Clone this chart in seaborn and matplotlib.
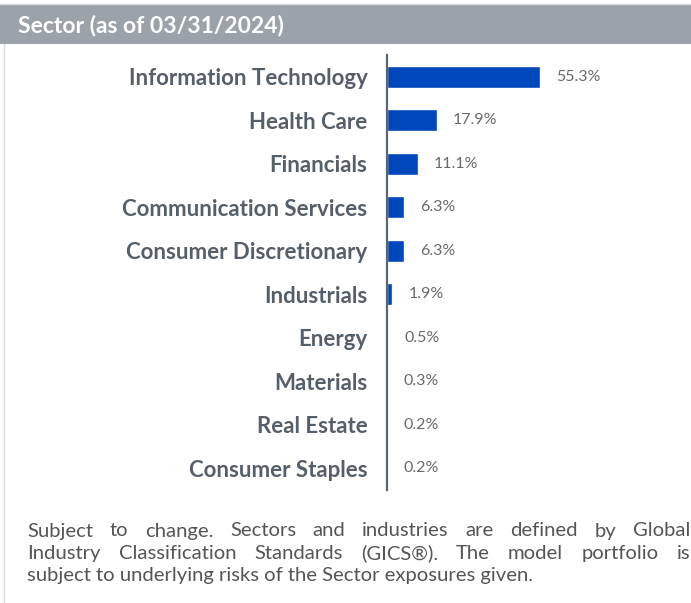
import numpy as np
import pandas as pd
import seaborn as sns
from matplotlib import pyplot as plt
from matplotlib.patches import Rectangle
from matplotlib.lines import Line2D

## DATA ##
sectors = ["Information Technology", "Health Care", "Financials",
           "Communication Services", "Consumer Discretionary", "Industrials",
           "Energy", "Materials", "Real Estate", "Consumer Staples"]
weights = [55.3, 17.9, 11.1, 6.3, 6.3, 1.9, 0.5, 0.3, 0.2, 0.2]
title = "Sector (as of 03/31/2024)"
note_lines = ["Subject to change. Sectors and industries are defined by Global",
              "Industry Classification Standards (GICS\u00ae). The model portfolio is",
              "subject to underlying risks of the Sector exposures given."]

## SETTINGS ##
W, H = 691, 603
bar_color = "#0047bb"
label_color = "#555f69"
value_color = "#6a6a6a"
header_color = "#9ba2a9"

sns.set_style("white")
plt.rcParams['font.family'] = ['Lato', 'DejaVu Sans']

fig = plt.figure(figsize=(W / 100, H / 100), dpi=100)

def px(x0, y0, w, h):
    # pixel box (top-left origin) -> figure fraction
    return [x0 / W, 1 - (y0 + h) / H, w / W, h / H]

# header band + frame lines
fig.patches.append(Rectangle((0, 1 - 44 / H), 1, 40 / H, transform=fig.transFigure,
                             facecolor=header_color, edgecolor="none"))
fig.lines.append(Line2D([0, 1], [1 - 3.5 / H] * 2, transform=fig.transFigure,
                        color="#d8dadd", lw=1))
fig.lines.append(Line2D([3.5 / W] * 2, [0, 1 - 44 / H], transform=fig.transFigure,
                        color="#d8dadd", lw=1))
fig.text(18 / W, 1 - 26 / H, title, color="white", fontsize=16.5, fontweight="bold",
         va="center", ha="left")

# bar chart
df = pd.DataFrame({"sector": sectors, "weight": weights})
ax = fig.add_axes(px(387, 55, 300, 435))
sns.barplot(data=df, x="weight", y="sector", orient="h", color=bar_color,
            saturation=1, width=0.5, ax=ax)
ax.set_xlim(0, 300 / 2.77)
ax.set_ylim(len(sectors) - 0.5, -0.5)
ax.set_xlabel("")
ax.set_ylabel("")
ax.set_xticks([])
for s in ["top", "right", "bottom"]:
    ax.spines[s].set_visible(False)
ax.spines["left"].set_color("#5b6670")
ax.spines["left"].set_linewidth(1.6)
ax.tick_params(axis="y", length=0, pad=14)
for lab in ax.get_yticklabels():
    lab.set_fontsize(16)
    lab.set_fontweight("bold")
    lab.set_color(label_color)
ax.patch.set_alpha(0)

for i, v in enumerate(weights):
    ax.annotate(f"{v:.1f}%", (v, i), xytext=(16, 0), textcoords="offset pixels",
                va="center", ha="left", fontsize=11.5, color=value_color)

# justified footnote
fig.canvas.draw()
renderer = fig.canvas.get_renderer()
x_left, x_right = 27, 690
note_size = 14.6
for k, line in enumerate(note_lines):
    y = 1 - (531 + k * 22.5) / H
    words = line.split(" ")
    if k == len(note_lines) - 1:
        fig.text(x_left / W, y, line, fontsize=note_size, color="#555555",
                 va="center", ha="left")
        continue
    texts = [fig.text(0, y, w_, fontsize=note_size, color="#555555", va="center")
             for w_ in words]
    widths = [t.get_window_extent(renderer).width for t in texts]
    gap = (x_right - x_left - sum(widths)) / (len(words) - 1)
    x = x_left
    for t, w_ in zip(texts, widths):
        t.set_x(x / W)
        x += w_ + gap

fig.savefig("out.png", dpi=100)
